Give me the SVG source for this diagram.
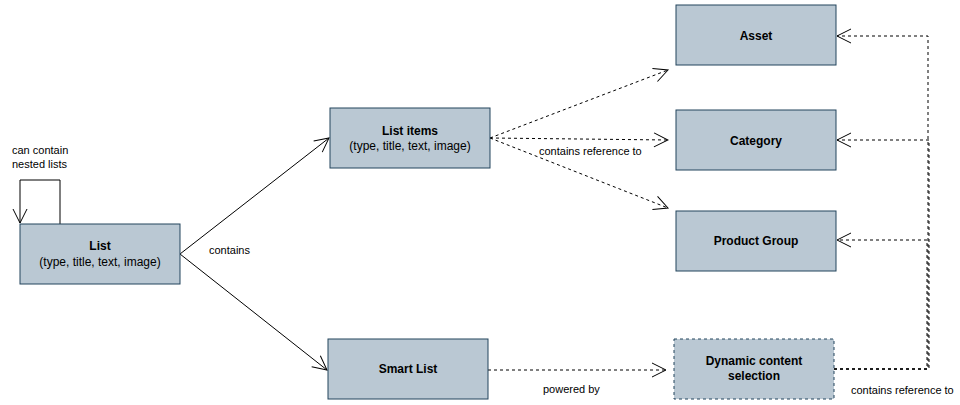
<svg xmlns="http://www.w3.org/2000/svg" width="960" height="405" viewBox="0 0 960 405">
<defs>
<marker id="open" viewBox="0 0 16 16" refX="15" refY="8" markerWidth="16" markerHeight="16" markerUnits="userSpaceOnUse" orient="auto">
<path d="M1,1 L15,8 L1,15" fill="none" stroke="#000" stroke-width="1"/>
</marker>
</defs>
<style>
.box{fill:#bac8d3;stroke:#23445d;stroke-width:1}
.dbox{fill:#bac8d3;stroke:#23445d;stroke-width:1;stroke-dasharray:3 3}
.t{font-family:"Liberation Sans",Arial,sans-serif;font-size:12px;fill:#000;text-anchor:middle}
.b{font-weight:bold}
.lbl{font-family:"Liberation Sans",Arial,sans-serif;font-size:11px;fill:#000}
.c{fill:none;stroke:#000;stroke-width:1}
.d{fill:none;stroke:#000;stroke-width:1;stroke-dasharray:3 3}
</style>
<rect width="960" height="405" fill="#fff"/>
<g id="connectors">
<path class="c" d="M60,224 V180 H20 V223" marker-end="url(#open)"/>
<path class="c" d="M180,254 L329,138" marker-end="url(#open)"/>
<path class="c" d="M180,254 L327,370" marker-end="url(#open)"/>
<path class="d" d="M490,138 L668,70" marker-end="url(#open)"/>
<path class="d" d="M490,138 L668,140" marker-end="url(#open)"/>
<path class="d" d="M490,138 L668,208" marker-end="url(#open)"/>
<path class="d" d="M488,370 L666,370" marker-end="url(#open)"/>
<path class="d" d="M834,369 H928 V36 H837" marker-end="url(#open)"/>
<path class="d" d="M834,369 H929 V140 H837" marker-end="url(#open)"/>
<path class="d" d="M834,369 H927 V240 H837" marker-end="url(#open)"/>
<text class="lbl" x="12" y="154">can contain</text>
<text class="lbl" x="12" y="168">nested lists</text>
<text class="lbl" x="209" y="254">contains</text>
<text class="lbl" x="539" y="155">contains reference to</text>
<text class="lbl" x="543" y="393">powered by</text>
<text class="lbl" x="851" y="394">contains reference to</text>
</g>
<g id="list">
<rect class="box" x="20" y="224" width="160" height="60"/>
<text class="t b" x="100" y="250">List</text>
<text class="t" x="100" y="266">(type, title, text, image)</text>
</g>
<g id="list-items">
<rect class="box" x="330" y="108" width="160" height="60"/>
<text class="t b" x="410" y="135">List items</text>
<text class="t" x="410" y="150">(type, title, text, image)</text>
</g>
<g id="smart-list">
<rect class="box" x="328" y="339" width="160" height="60"/>
<text class="t b" x="408" y="373">Smart List</text>
</g>
<g id="asset">
<rect class="box" x="676" y="5" width="160" height="60"/>
<text class="t b" x="756" y="40">Asset</text>
</g>
<g id="category">
<rect class="box" x="676" y="110" width="160" height="60"/>
<text class="t b" x="756" y="145">Category</text>
</g>
<g id="product-group">
<rect class="box" x="676" y="211" width="160" height="60"/>
<text class="t b" x="756" y="245">Product Group</text>
</g>
<g id="dynamic">
<rect class="dbox" x="674" y="339" width="160" height="60"/>
<text class="t b" x="754" y="365">Dynamic content</text>
<text class="t b" x="754" y="380">selection</text>
</g>
</svg>
